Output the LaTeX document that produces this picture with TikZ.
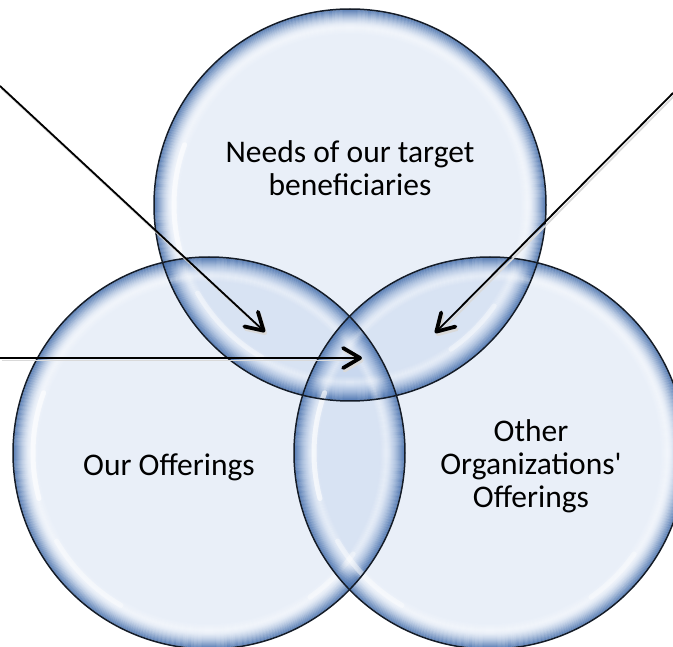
\documentclass[tikz,border=0pt]{standalone}
\usepackage{fontspec}
\setmainfont{Carlito}[Ligatures=TeXOff]
\usetikzlibrary{arrows.meta}
\definecolor{bubfill}{RGB}{140,172,220}
\definecolor{bubedge}{RGB}{66,108,170}
\definecolor{bubline}{RGB}{20,28,40}

\begin{document}
\begin{tikzpicture}[x=1pt,y=-1pt,
    bubble/.style={circle,fill=bubfill,fill opacity=0.19,minimum size=392pt,inner sep=0pt},
    glow/.style={draw=bubedge,line width=1.8pt},
    rim/.style={draw=bubline,line width=1.5pt},
    shine/.style={draw=white,line width=5pt,opacity=0.6,line cap=round},
    venntext/.style={font=\fontsize{31.5}{33}\selectfont,align=center},
    pointer/.style={draw=black,line width=1.8pt,-{Straight Barb[round,length=17pt,width=20pt,line width=3.8pt]}},
    ghost/.style={pointer,draw=black!15,transform canvas={shift={(1.5pt,-2.5pt)}}}]
        \useasboundingbox (0,0) coordinate (nw) rectangle (673,647) coordinate (se);
        \clip (nw) rectangle (se);
        % the three bubbles
        \node[bubble] (needs) at (350,205) {};
        \node[bubble] (ours) at (209,453) {};
        \node[bubble] (others) at (490,453) {};
        \foreach \b in {needs,ours,others} {
            \foreach \i [evaluate=\i as \op using {0.58*(1-\i/17)^2}] in {0,...,16}
                \draw[glow,draw opacity=\op] (\b.center) circle ({195-\i});
            \foreach \i [evaluate=\i as \op using {0.22*(1-abs(\i-5)/6)}] in {0,...,10}
                \draw[draw=white,line width=1.6pt,draw opacity=\op] (\b.center) circle ({182-\i});
            \draw[shine] (\b.center) ++(165:176) arc (165:200:176);
            \draw[shine,opacity=0.4] (\b.center) ++(120:176) arc (120:150:176);
            \draw[shine,opacity=0.35] (\b.center) ++(35:176) arc (35:55:176);
        }
        \foreach \b in {needs,ours,others}
            \draw[rim] (\b.center) circle (196);
        % texts
        \node[venntext] (needs text) at (350,168) {Needs of our target\\beneficiaries};
        \node[venntext] (ours text) at (169,467) {Our Offerings};
        \node[venntext] (others text) at (531,466) {Other\\Organizations'\\Offerings};
        % pointers
        \coordinate (from left) at (0,86);
        \coordinate (from right) at (673,93);
        \coordinate (from mid) at (0,358);
        \coordinate (needs ours) at (265,332);
        \coordinate (needs others) at (435,333);
        \coordinate (all three) at (362,358);
        \foreach \s/\e in {from left/needs ours,from right/needs others,from mid/all three} {
            \draw[ghost] (\s) -- (\e);
            \draw[pointer] (\s) -- (\e);
        }
    \end{tikzpicture}
\end{document}
